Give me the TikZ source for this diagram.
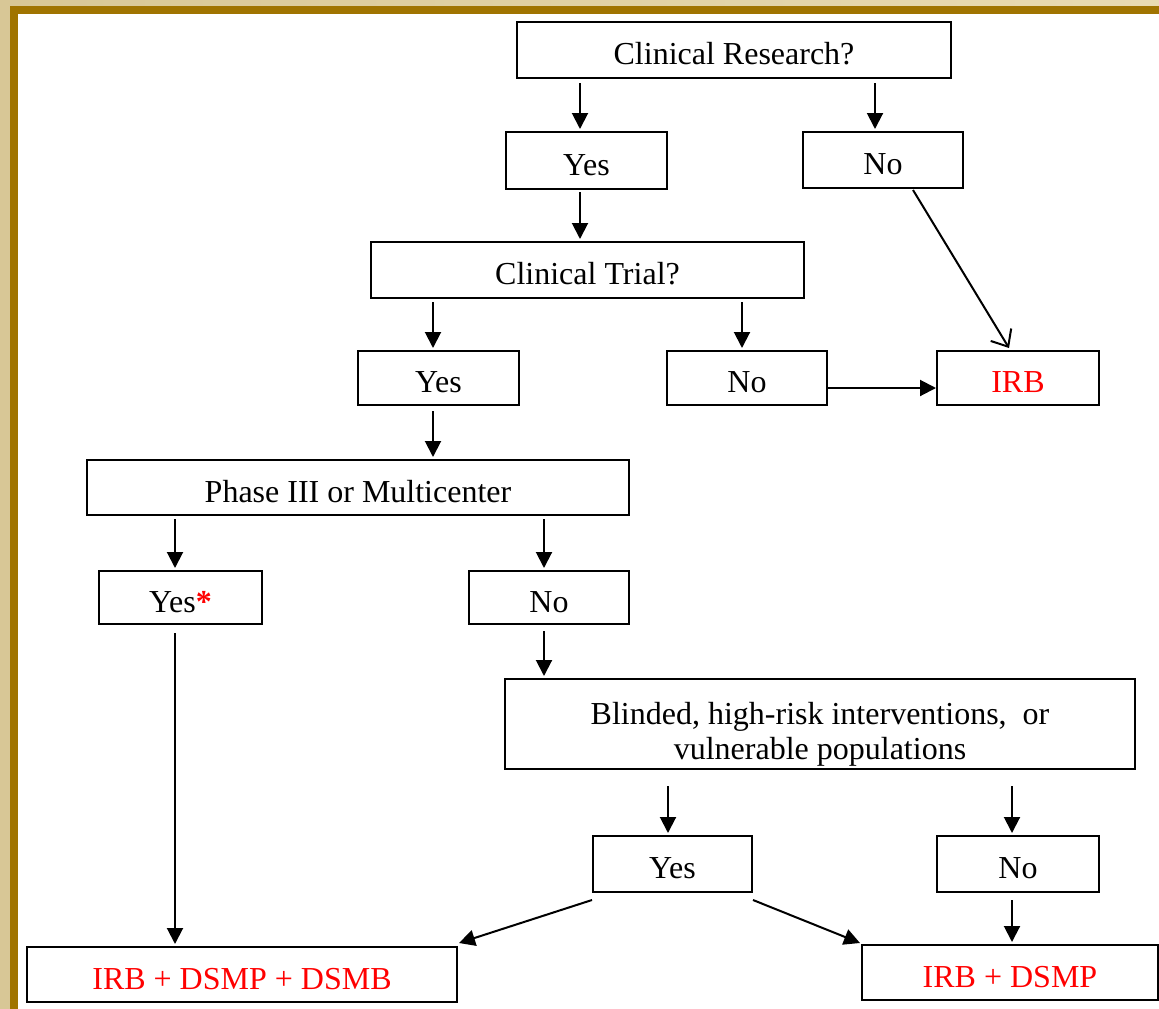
\documentclass[tikz,border=0pt]{standalone}
\usepackage{fontspec}
\setmainfont{Liberation Serif}
\usetikzlibrary{arrows.meta,calc}
\definecolor{tanL}{RGB}{216,199,150}
\definecolor{tanR}{RGB}{233,219,178}
\definecolor{gold}{RGB}{160,116,0}
\definecolor{redtxt}{RGB}{255,0,0}
\newcommand{\boxfont}{\fontsize{32}{35}\selectfont}
\begin{document}
\begin{tikzpicture}[x=1pt,y=-1pt,
  box/.style={draw,line width=2pt,inner sep=0pt,font=\boxfont,text height=29pt,text depth=0pt},
  res/.style={box,text=redtxt},
  arr/.style={line width=2pt,-{Triangle[width=16pt,length=16pt]}},
  openarr/.style={line width=2pt,-{Straight Barb[length=14pt,width=24pt,line width=2pt]}}]
\useasboundingbox (0,0) rectangle (1159,1009);
% frame
\shade[left color=tanL,right color=tanR] (0,0) rectangle (1159,1009);
\fill[gold] (10,6) rectangle (1159,1009);
\fill[white] (18,14) rectangle (1159,1009);
% nodes
\node[box,minimum width=434pt,minimum height=56pt] (cr) at (734,50) {Clinical Research?};
\node[box,minimum width=161pt,minimum height=57pt] (yes1) at (586.5,160.5) {Yes};
\node[box,minimum width=160pt,minimum height=56pt] (no1) at (883,160) {No};
\node[box,minimum width=433pt,minimum height=56pt] (ct) at (587.5,270) {Clinical Trial?};
\node[box,minimum width=161pt,minimum height=54pt] (yes2) at (438.5,378) {Yes};
\node[box,minimum width=160pt,minimum height=54pt] (no2) at (747,378) {No};
\node[res,minimum width=162pt,minimum height=54pt] (irb) at (1018,378) {IRB};
\node[box,minimum width=542pt,minimum height=55pt] (ph) at (358,487.5) {Phase III or Multicenter};
\node[box,minimum width=163pt,minimum height=53pt] (yes3) at (180.5,597.5) {Yes\textcolor{redtxt}{\textbf{*}}};
\node[box,minimum width=160pt,minimum height=53pt] (no3) at (549,597.5) {No};
\node[box,minimum width=630pt,minimum height=90pt] (bl) at (820,724) {};
\node[font=\boxfont,align=center,inner sep=0pt] (bltext) at ($(bl.center)+(0,10)$) {Blinded, high-risk interventions,\ \ or\\vulnerable populations};
\node[box,minimum width=159pt,minimum height=56pt] (yes4) at (672.5,864) {Yes};
\node[box,minimum width=162pt,minimum height=56pt] (no4) at (1018,864) {No};
\node[res,minimum width=430pt,minimum height=55pt] (f1) at (242,974.5) {IRB + DSMP + DSMB};
\node[res,minimum width=296pt,minimum height=55pt] (f2) at (1010,972.5) {IRB + DSMP};
% connectors
\draw[arr] ($(yes1.north)+(-6.5,-48)$) -- ($(yes1.north)+(-6.5,-2)$);
\draw[arr] ($(no1.north)+(-8,-48)$) -- ($(no1.north)+(-8,-2)$);
\draw[arr] ($(ct.north)+(-7.5,-49)$) -- ($(ct.north)+(-7.5,-2)$);
\draw[arr] ($(yes2.north)+(-5.5,-48)$) -- ($(yes2.north)+(-5.5,-2)$);
\draw[arr] ($(no2.north)+(-5,-48)$) -- ($(no2.north)+(-5,-2)$);
\draw[arr] ($(no2.east)+(0,10)$) -- ($(irb.west)+(0,10)$);
\draw[openarr] ($(no1.south)+(30,1)$) -- ($(irb.north)+(-9,-2)$);
\draw[arr] ($(ph.north)+(75,-48)$) -- ($(ph.north)+(75,-2)$);
\draw[arr] ($(yes3.north)+(-5.5,-51)$) -- ($(yes3.north)+(-5.5,-2)$);
\draw[arr] ($(no3.north)+(-5,-51)$) -- ($(no3.north)+(-5,-2)$);
\draw[arr] ($(bl.north)+(-276,-47)$) -- ($(bl.north)+(-276,-2)$);
\draw[arr] ($(yes4.north)+(-4.5,-49)$) -- ($(yes4.north)+(-4.5,-2)$);
\draw[arr] ($(no4.north)+(-6,-49)$) -- ($(no4.north)+(-6,-2)$);
\draw[arr] ($(yes3.south)+(-5.5,8)$) -- ($(f1.north)+(-67,-2)$);
\draw[arr] ($(yes4.south west)+(0,7)$) -- ($(f1.north east)+(1,-3)$);
\draw[arr] ($(yes4.south east)+(0,7)$) -- ($(f2.north west)+(-1,-1)$);
\draw[arr] ($(no4.south)+(-6,7)$) -- ($(f2.north)+(2,-2)$);
\end{tikzpicture}
\end{document}
